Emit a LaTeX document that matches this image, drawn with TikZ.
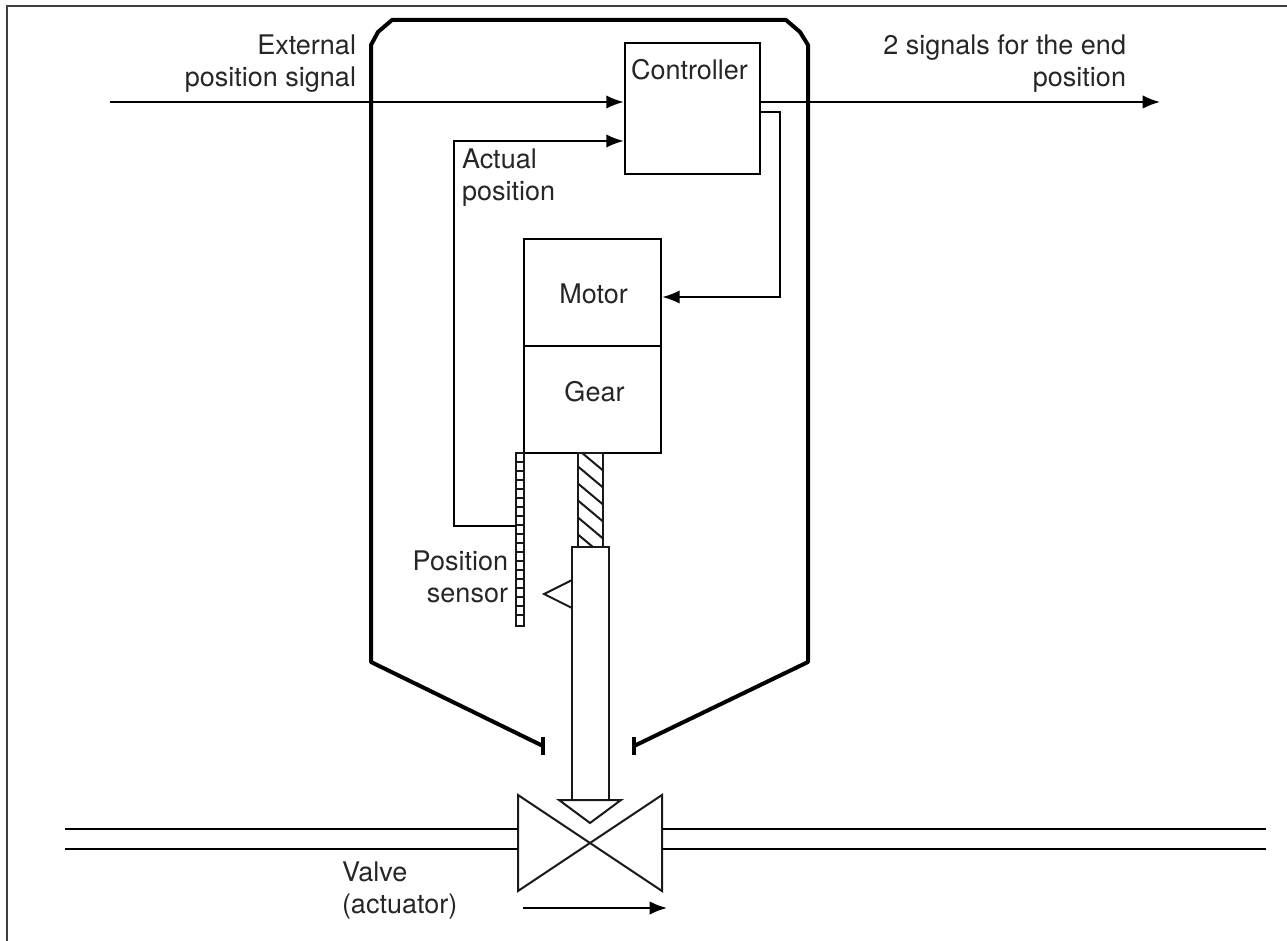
\documentclass[tikz,border=0pt]{standalone}
\usepackage{fontspec}
\setmainfont{TeX Gyre Heros}
\usetikzlibrary{positioning}
\usetikzlibrary{arrows.meta}

\begin{document}
\begin{tikzpicture}[x=0.75pt,y=-0.75pt,
	block/.style={draw,line width=2pt,rectangle,outer sep=0pt,inner sep=0pt},
	part/.style={draw=black!90,line width=1.5pt},
	sig/.style={draw,line width=1.3pt},
	tosig/.style={sig,-{Latex[length=13pt,width=10pt]},shorten >=1pt},
	lbl/.style={font=\fontsize{20.25}{24}\selectfont,text=black!85,inner sep=0pt,outer sep=0pt}]
	\useasboundingbox (0,0) rectangle (1287,941);
	\draw [black!75,line width=1.5pt] (7,941) -- (7,6) -- (1287,6);
	% housing
	\draw [line width=3pt,line join=round] (543,746) -- (371,662) -- (371,45) -- (378,32) -- (392,20) -- (786,20) -- (800,32) -- (808,45) -- (808,662) -- (634,746);
	\draw [line width=3pt] (543,737) -- (543,755);
	\draw [line width=3pt] (634,737) -- (634,755);
	% boxes
	\node [block,minimum width=101.25pt,minimum height=98.25pt] (ctrl) at (692.5,108.5) {};
	\node [block,minimum width=102.75pt,minimum height=80.25pt] (motor) at (592.5,292.5) {};
	\node [block,minimum width=102.75pt,minimum height=80.25pt,below=0pt of motor] (gear) {};
	\node [lbl,anchor=base] (ctrltext) at (689.5,80) {Controller};
	\node [lbl,anchor=base] (motortext) at (593.5,303) {Motor};
	\node [lbl,anchor=base] (geartext) at (594.5,401) {Gear};
	% spindle
	\begin{scope}
		\clip (578,453) rectangle (603,547);
		\foreach \y in {430,447,...,550}
			\draw [part] (575,\y) -- (606,\y+26);
	\end{scope}
	\draw [part] (578,453) rectangle (603,547);
	\draw [part] (572,800) -- (572,547) -- (609,547) -- (609,800);
	\draw [part] (559,800) -- (621,800) -- (590,823) -- cycle;
	\draw [part] (572,580) -- (544,594) -- (572,608);
	% sensor
	\node [draw=black!90,line width=1.5pt,rectangle,outer sep=0pt,inner sep=0pt,minimum width=6pt,minimum height=129.75pt] (scale) at (520,539.5) {};
	\foreach \y in {462,471,...,620}
		\draw [black!90,line width=1.5pt] (516,\y) -- (524,\y);
	% valve
	\coordinate (valveL) at (518,843);
	\coordinate (valveR) at (662,843);
	\draw [part] (518,795) -- (518,891) -- (662,795) -- (662,891) -- cycle;
	\coordinate (pipeA) at (65,829);
	\coordinate (pipeB) at (65,849);
	\coordinate (pipeC) at (1266,829);
	\coordinate (pipeD) at (1266,849);
	\draw [sig] (pipeA) -- (pipeA -| valveL);
	\draw [sig] (pipeB) -- (pipeB -| valveL);
	\draw [sig] (pipeC) -- (pipeC -| valveR);
	\draw [sig] (pipeD) -- (pipeD -| valveR);
	% signals
	\coordinate (extin) at (110,102);
	\coordinate (endout) at (1160,102);
	\coordinate (fb) at (454,141);
	\coordinate (tap) at (516,526);
	\coordinate (ctrlout) at (760,112);
	\coordinate (turn) at (780,297);
	\coordinate (flowa) at (523,908);
	\coordinate (flowb) at (667,908);
	\draw [tosig] (extin) -- (ctrl.west |- extin);
	\draw [sig,-{Latex[length=13pt,width=10pt]}] (ctrl.east |- endout) -- (endout);
	\draw [tosig] (tap) -| (fb) -- (ctrl.west |- fb);
	\draw [tosig] (ctrlout) -| (turn) -- (motor.east |- turn);
	\draw [sig,-{Latex[length=13pt,width=10pt]}] (flowa) -- (flowb);
	% labels
	\node [lbl,align=right,anchor=east] (extlabel) at (356,64) {External\\position signal};
	\node [lbl,align=right,anchor=east] (endlabel) at (1126,64) {2 signals for the end\\position};
	\node [lbl,align=left,anchor=west] (actlabel) at (462,178) {Actual\\position};
	\node [lbl,align=right,anchor=east] (senslabel) at (508,576.5) {Position\\sensor};
	\node [lbl,align=left,anchor=west] (valvelabel) at (342,890.5) {Valve\\(actuator)};
\end{tikzpicture}
\end{document}
